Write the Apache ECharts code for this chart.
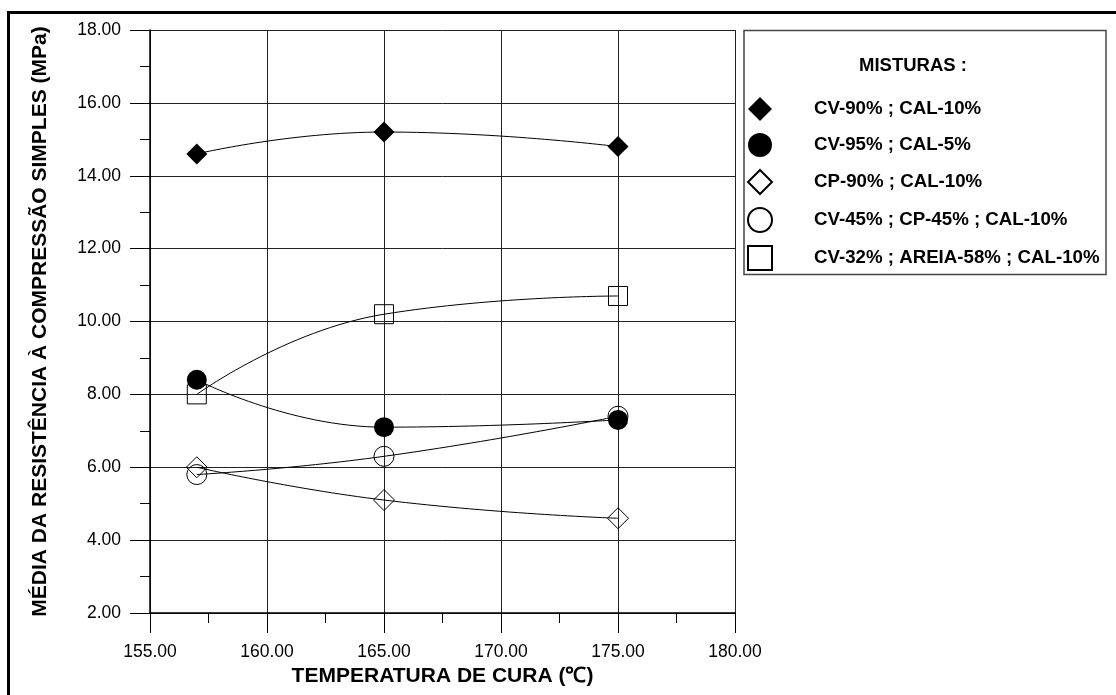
<!DOCTYPE html>
<html>
<head>
<meta charset="utf-8">
<script src="https://cdn.jsdelivr.net/npm/echarts@6/dist/echarts.min.js"></script>
<style>
html,body{margin:0;padding:0;background:#fff;}
#chart{width:1116px;height:695px;}
</style>
</head>
<body>
<div id="chart"></div>
<script>
// ---- data ----
var temperatures = [157, 165, 175];
var seriesNames = [
  'CV-90% ; CAL-10%',
  'CV-95% ; CAL-5%',
  'CP-90% ; CAL-10%',
  'CV-45% ; CP-45% ; CAL-10%',
  'CV-32% ; AREIA-58% ; CAL-10%'
];
var cv90cal10 = [14.6, 15.2, 14.8];
var cv95cal5 = [8.4, 7.1, 7.3];
var cp90cal10 = [6.0, 5.1, 4.6];
var cv45cp45cal10 = [5.8, 6.3, 7.4];
var cv32areia58cal10 = [8.0, 10.2, 10.7];
var xTitle = 'TEMPERATURA DE CURA (\u2103)';
var yTitle = 'MÉDIA DA RESISTÊNCIA À COMPRESSÃO SIMPLES (MPa)';
var legendTitle = 'MISTURAS :';

var FONT = 'Arial, "Liberation Sans", sans-serif';

function pairs(vals){ return temperatures.map(function(t,i){ return [t, vals[i]]; }); }

var styles = [
  {symbol:'diamond', filled:true, data:cv90cal10},
  {symbol:'circle', filled:true, data:cv95cal5},
  {symbol:'diamond', filled:false, data:cp90cal10},
  {symbol:'circle', filled:false, data:cv45cp45cal10},
  {symbol:'rect', filled:false, data:cv32areia58cal10}
];

var series = styles.map(function(s, i){
  return {
    name: seriesNames[i],
    type: 'line',
    smooth: 0.5,
    data: pairs(s.data),
    symbol: s.symbol,
    symbolSize: s.symbol === 'rect' ? 19 : (s.symbol === 'diamond' ? [21, 21] : 20),
    showSymbol: true,
    lineStyle: {color:'#000', width:1},
    itemStyle: {
      color: s.filled ? '#000' : 'rgba(255,255,255,0)',
      borderColor: '#000',
      borderWidth: s.filled ? 0 : 1
    },
    emphasis: {disabled:true},
    z: 3
  };
});

var chart = echarts.init(document.getElementById('chart'), null, {renderer:'canvas'});
chart.setOption({
  animation: false,
  backgroundColor: '#fff',
  textStyle: {fontFamily: FONT},
  grid: {left:150, right:381, top:30, bottom:82, containLabel:false},
  xAxis: {
    type: 'value', min:155, max:180, interval:5,
    name: xTitle, nameLocation:'middle', nameGap:50,
    nameTextStyle: {fontFamily:FONT, fontWeight:'bold', fontSize:21, color:'#000'},
    axisLine: {show:true, onZero:false, lineStyle:{color:'#000', width:1.5}},
    axisTick: {show:true, inside:false, length:20, lineStyle:{color:'#000', width:1}},
    minorTick: {show:true, splitNumber:2, length:10, lineStyle:{color:'#000', width:1}},
    axisLabel: {margin:30, fontSize:17.5, color:'#000', fontFamily:FONT,
      formatter:function(v){return v.toFixed(2);}},
    splitLine: {show:true, lineStyle:{color:'#222', width:1}}
  },
  yAxis: {
    type: 'value', min:2, max:18, interval:2,
    name: yTitle, nameLocation:'middle', nameGap:99, nameRotate:90,
    nameTextStyle: {fontFamily:FONT, fontWeight:'bold', fontSize:21, color:'#000'},
    axisLine: {show:true, onZero:false, lineStyle:{color:'#000', width:1.5}},
    axisTick: {show:true, inside:false, length:20, lineStyle:{color:'#000', width:1}},
    minorTick: {show:true, splitNumber:2, length:10, lineStyle:{color:'#000', width:1}},
    axisLabel: {margin:29, fontSize:17.5, color:'#000', fontFamily:FONT,
      formatter:function(v){return v.toFixed(2);}},
    splitLine: {show:true, lineStyle:{color:'#222', width:1}}
  },
  title: {
    text: legendTitle, left: 913, top: 56, textAlign:'center',
    padding: 0,
    textStyle: {fontFamily:FONT, fontWeight:'bold', fontSize:18.5, color:'#000'}
  },
  legend: {
    orient: 'vertical', left: 747, top: 97, padding: 0,
    itemWidth: 24, itemHeight: 24, itemGap: 12,
    selectedMode: false,
    data: seriesNames.map(function(n, i){
      return {name:n, icon: styles[i].symbol};
    }),
    textStyle: {fontFamily:FONT, fontWeight:'bold', fontSize:18.7, color:'#000', padding:[0,0,0,37]}
  },
  graphic: [
    {type:'rect', shape:{x:8.5, y:12.5, width:1200, height:800}, style:{fill:null, stroke:'#000', lineWidth:3}, z:0, silent:true},
    {type:'rect', shape:{x:744, y:30.5, width:362, height:244}, style:{fill:null, stroke:'#444', lineWidth:1.5}, z:0, silent:true}
  ],
  series: series
});
</script>
</body>
</html>
